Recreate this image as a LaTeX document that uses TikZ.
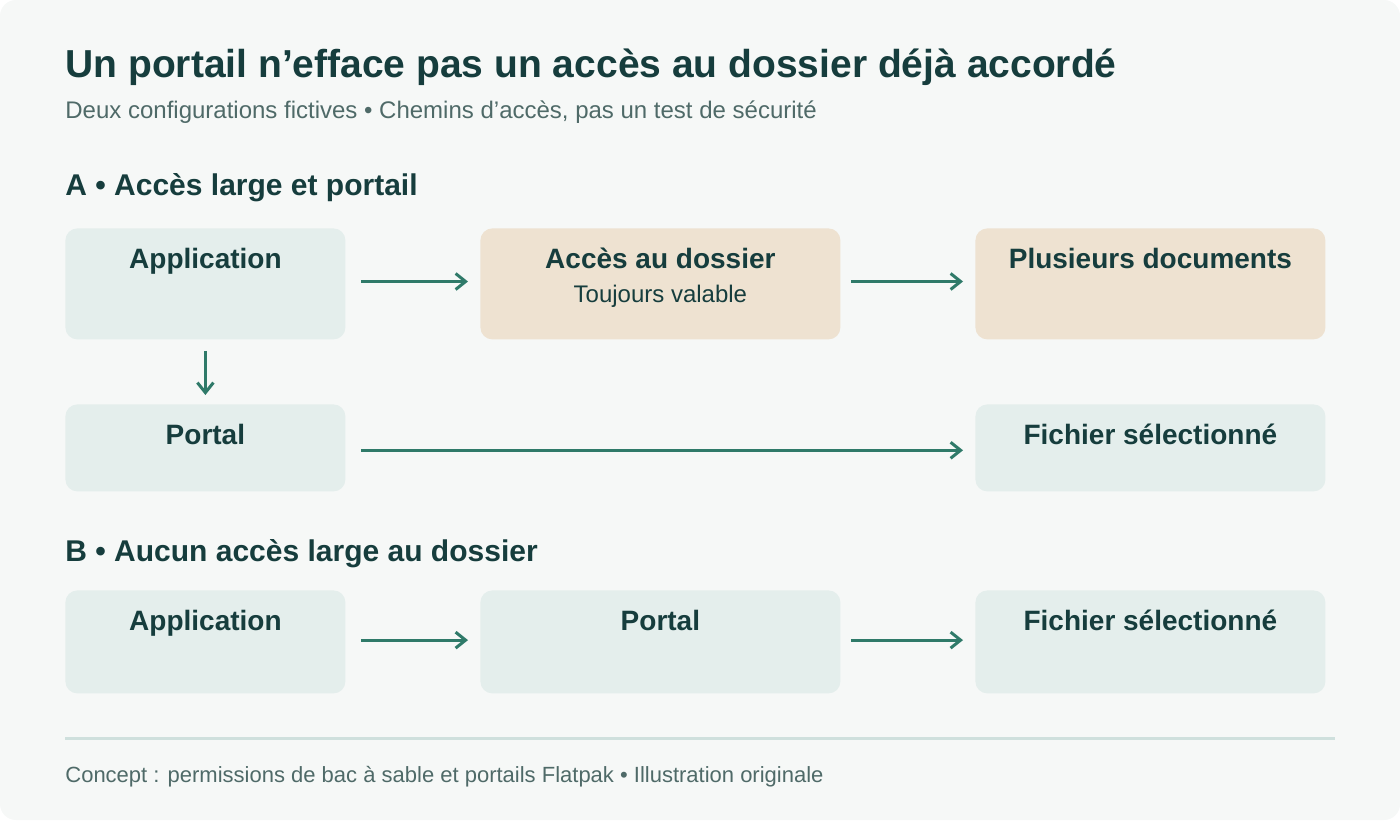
\documentclass[tikz,border=0pt]{standalone}
\usepackage{fontspec}
\setmainfont{Liberation Sans}
\usetikzlibrary{arrows.meta,positioning,calc}
\definecolor{bgc}{HTML}{F6F8F7}
\definecolor{ink}{HTML}{163D3D}
\definecolor{grey}{HTML}{4F6A68}
\definecolor{boxc}{HTML}{E4EEEC}
\definecolor{tanc}{HTML}{EEE2D1}
\definecolor{arr}{HTML}{2F7A69}
\definecolor{rule}{HTML}{CFE0DD}
\begin{document}
\begin{tikzpicture}[x=0.5pt, y=-0.5pt,
    box/.style = {fill=boxc, rounded corners=6pt, inner sep=0pt, anchor=north west, minimum height=#1},
    tan/.style = {box=#1, fill=tanc},
    lbl/.style = {text=ink, inner sep=0pt, anchor=base, font=\fontsize{14}{16}\selectfont\bfseries},
    head/.style = {text=ink, inner sep=0pt, anchor=base west, font=\fontsize{15}{17}\selectfont\bfseries},
    sub/.style = {text=ink, inner sep=0pt, anchor=base, font=\fontsize{12}{14}\selectfont},
    flow/.style = {draw=arr, line width=1.5pt, -{Straight Barb[length=5pt,width=8pt]}}]
    % background
    \fill[bgc, rounded corners=8pt] (0,0) rectangle (1400,820);
    \useasboundingbox (0,0) rectangle (1400,820);

    % titles
    \node[anchor=base west, inner sep=0pt, text=ink, font=\fontsize{19.5}{22}\selectfont\bfseries] (title) at (65,77) {Un portail n’efface pas un accès au dossier déjà accordé};
    \node[anchor=base west, inner sep=0pt, text=grey, font=\fontsize{12}{14}\selectfont] (subtitle) at (65,118) {Deux configurations fictives • Chemins d’accès, pas un test de sécurité};
    \node[head] (headA) at (65,195) {A • Accès large et portail};
    \node[head] (headB) at (65,561) {B • Aucun accès large au dossier};

    % section A
    \node[box=55.5pt, minimum width=140pt] (appA) at (65,228) {};
    \node[tan=55.5pt, minimum width=180pt] (accA) at (480,228) {};
    \node[tan=55.5pt, minimum width=175pt] (docA) at (975,228) {};
    \node[box=43.5pt, minimum width=140pt] (porA) at (65,404) {};
    \node[box=43.5pt, minimum width=175pt] (filA) at (975,404) {};

    \node[lbl] at ([yshift=-20pt]appA.north) {Application};
    \node[lbl] at ([yshift=-20pt]accA.north) {Accès au dossier};
    \node[sub] at ([yshift=-37pt]accA.north) {Toujours valable};
    \node[lbl] at ([yshift=-20pt]docA.north) {Plusieurs documents};
    \node[lbl] at ([yshift=-20pt]porA.north) {Portal};
    \node[lbl] at ([yshift=-20pt]filA.north) {Fichier sélectionné};

    \draw[flow, shorten <=7.5pt, shorten >=6pt] ([yshift=1.2pt]appA.east) -- ([yshift=1.2pt]accA.west);
    \draw[flow, shorten <=5pt, shorten >=6pt] ([yshift=1.2pt]accA.east) -- ([yshift=1.2pt]docA.west);
    \draw[flow, shorten <=5.5pt, shorten >=4.5pt] (appA.south) -- (porA.south |- porA.north);
    \draw[flow, shorten <=7.5pt, shorten >=6pt] ([yshift=-1.2pt]porA.east) -- ([yshift=-1.2pt]filA.west);

    % section B
    \node[box=51.5pt, minimum width=140pt] (appB) at (65,590) {};
    \node[box=51.5pt, minimum width=180pt] (porB) at (480,590) {};
    \node[box=51.5pt, minimum width=175pt] (filB) at (975,590) {};

    \node[lbl] at ([yshift=-20pt]appB.north) {Application};
    \node[lbl] at ([yshift=-20pt]porB.north) {Portal};
    \node[lbl] at ([yshift=-20pt]filB.north) {Fichier sélectionné};

    \draw[flow, shorten <=7.5pt, shorten >=6pt] ([yshift=0.9pt]appB.east) -- ([yshift=0.9pt]porB.west);
    \draw[flow, shorten <=5pt, shorten >=6pt] ([yshift=0.9pt]porB.east) -- ([yshift=0.9pt]filB.west);

    % footer
    \draw[rule, line width=1.5pt] (65,738) -- (1335,738);
    \node[anchor=base west, inner sep=0pt, text=grey, font=\fontsize{11}{13}\selectfont] (foot) at (65,782) {Concept : permissions de bac à sable et portails Flatpak • Illustration originale};
\end{tikzpicture}
\end{document}
